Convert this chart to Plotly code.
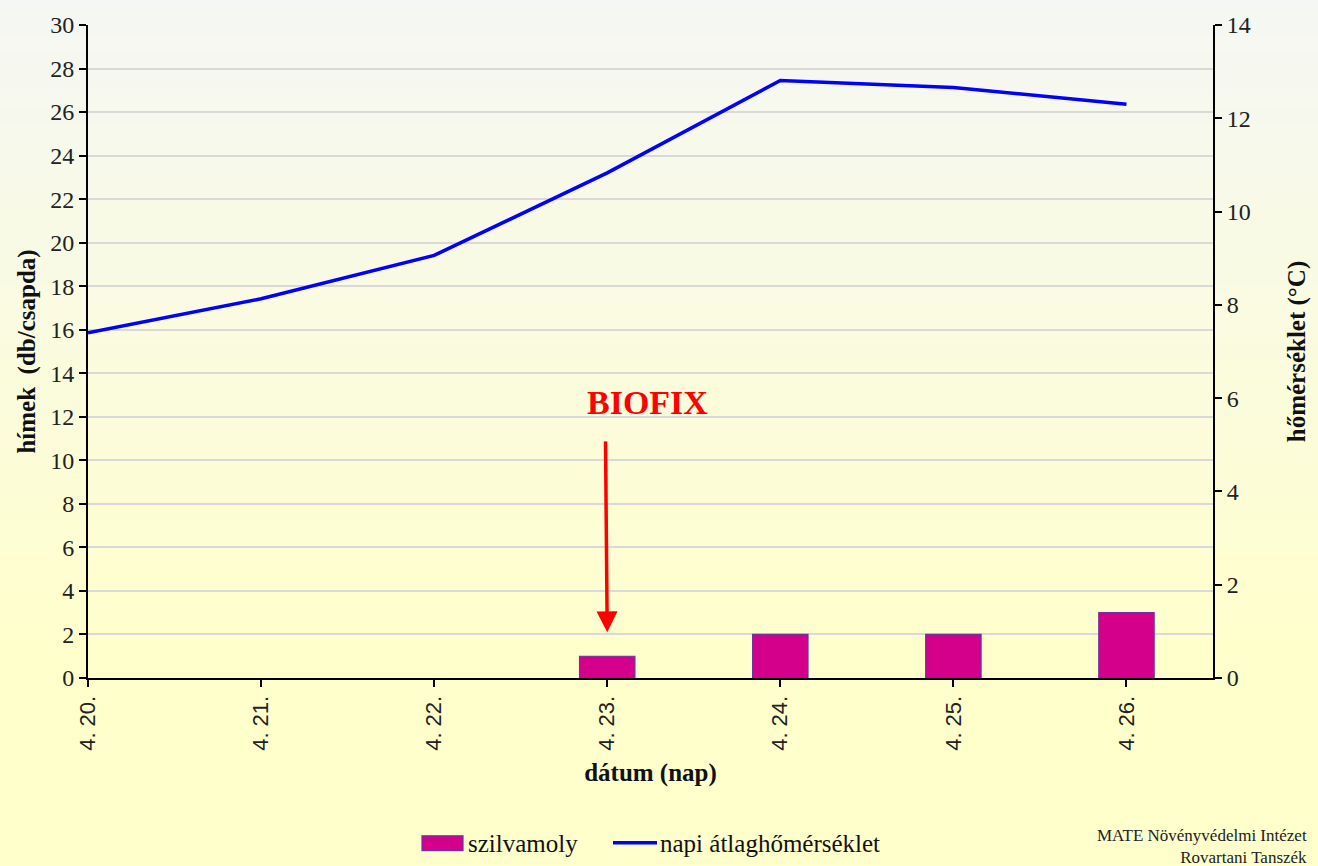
import plotly.graph_objects as go

dates = ["4. 20.", "4. 21.", "4. 22.", "4. 23.", "4. 24.", "4. 25.", "4. 26."]
moth_counts = [0, 0, 0, 1, 2, 2, 3]
temperature = [7.40, 8.13, 9.06, 10.83, 12.81, 12.66, 12.30]
series_names = ["szilvamoly", "napi átlaghőmérséklet"]

SERIF = "Liberation Serif"
SANS = "Liberation Sans"
BAR_COLOR = "#d4008c"
BAR_EDGE = "#7030a0"
LINE_COLOR = "#0000ff"
xs = list(range(len(dates)))

fig = go.Figure()

fig.add_trace(go.Bar(
    x=xs, y=moth_counts, name=series_names[0], width=0.32,
    marker=dict(color=BAR_COLOR,
                line=dict(color=BAR_EDGE, width=[0 if v == 0 else 1.2 for v in moth_counts])),
    yaxis="y", showlegend=False,
))
fig.add_trace(go.Scatter(
    x=xs, y=temperature, name=series_names[1], mode="lines",
    line=dict(color=LINE_COLOR, width=3.5), yaxis="y2", showlegend=False,
))

# background gradient (top greyish white -> light yellow)
shapes = []
n = 60
top = (245, 247, 244)
bot = (255, 255, 204)
for i in range(n):
    t = min(1.0, (i / (n - 1)) / 0.75)
    c = tuple(round(top[k] + (bot[k] - top[k]) * t) for k in range(3))
    shapes.append(dict(type="rect", xref="paper", yref="paper",
                       x0=-0.2, x1=1.2, y0=1.05 - (i + 1) * (1.35 / n) - 0.01,
                       y1=1.05 - i * (1.35 / n),
                       fillcolor="rgb(%d,%d,%d)" % c, line=dict(width=0), layer="below"))

# custom legend symbols (pixel positions converted to paper coords)
PL, PW, PT, PH = 88, 1125, 20, 658
def px(x):
    return (x - PL) / PW
def py(y):
    return (PT + PH - y) / PH

shapes.append(dict(type="rect", xref="paper", yref="paper",
                   x0=px(422), x1=px(463), y0=py(852), y1=py(837),
                   fillcolor=BAR_COLOR, line=dict(color=BAR_EDGE, width=1.2)))
shapes.append(dict(type="line", xref="paper", yref="paper",
                   x0=px(613), x1=px(657), y0=py(844), y1=py(844),
                   line=dict(color=LINE_COLOR, width=3.5)))

fig.update_layout(
    width=1318, height=866,
    margin=dict(l=88, r=105, t=20, b=188),
    paper_bgcolor="#ffffcc",
    plot_bgcolor="rgba(0,0,0,0)",
    font=dict(family=SERIF, size=24, color="#111111"),
    shapes=shapes,
    showlegend=False,
    xaxis=dict(
        range=[0, 6.5], tickvals=xs, ticktext=dates, tickangle=-90,
        showline=True, linecolor="black", linewidth=2,
        ticks="outside", ticklen=7, tickwidth=2, tickcolor="black",
        showgrid=False, zeroline=False,
        tickfont=dict(family=SANS, size=22, color="#222"),
        title=dict(text="<b>dátum (nap)</b>", font=dict(family=SERIF, size=25, color="#111"), standoff=14),
    ),
    yaxis=dict(
        range=[0, 30], dtick=2, showline=True, linecolor="black", linewidth=2,
        ticks="outside", ticklen=7, tickwidth=2, tickcolor="black",
        showgrid=True, gridcolor="#d9d9d9", gridwidth=1.5, zeroline=False,
        tickfont=dict(family=SERIF, size=24, color="#222"),
        title=dict(text="<b>hímek  (db/csapda)</b>", font=dict(family=SERIF, size=25, color="#111"), standoff=7),
    ),
    yaxis2=dict(
        range=[0, 14], dtick=2, overlaying="y", side="right",
        showline=True, linecolor="black", linewidth=2,
        ticks="outside", ticklen=7, tickwidth=2, tickcolor="black",
        showgrid=False, zeroline=False,
        tickfont=dict(family=SERIF, size=24, color="#222"),
        title=dict(text="<b>hőmérséklet (°C)</b>", font=dict(family=SERIF, size=25, color="#111"), standoff=38),
    ),
    annotations=[
        dict(text="<b>BIOFIX</b>", x=3.23, y=12.68, xref="x", yref="y", showarrow=False,
             font=dict(family=SERIF, size=34, color="#ff0000")),
        dict(text="", x=3.0, y=2.1, xref="x", yref="y", ax=2.99, ay=10.94, axref="x", ayref="y",
             showarrow=True, arrowhead=2, arrowsize=1.2, arrowwidth=3.5, arrowcolor="#ff0000"),
        dict(text=series_names[0], x=px(466), y=py(845), xref="paper", yref="paper",
             xanchor="left", yanchor="middle", showarrow=False,
             font=dict(family=SERIF, size=25, color="#111")),
        dict(text=series_names[1], x=px(658), y=py(845), xref="paper", yref="paper",
             xanchor="left", yanchor="middle", showarrow=False,
             font=dict(family=SERIF, size=25, color="#111")),
        dict(text="MATE Növényvédelmi Intézet<br>Rovartani Tanszék", x=px(1309), y=py(848),
             xref="paper", yref="paper", xanchor="right", yanchor="middle", align="right",
             showarrow=False, font=dict(family=SERIF, size=17, color="#222")),
    ],
)

fig.write_html("out.html", config={"displayModeBar": False},
               post_script="document.body.style.margin='0';")
